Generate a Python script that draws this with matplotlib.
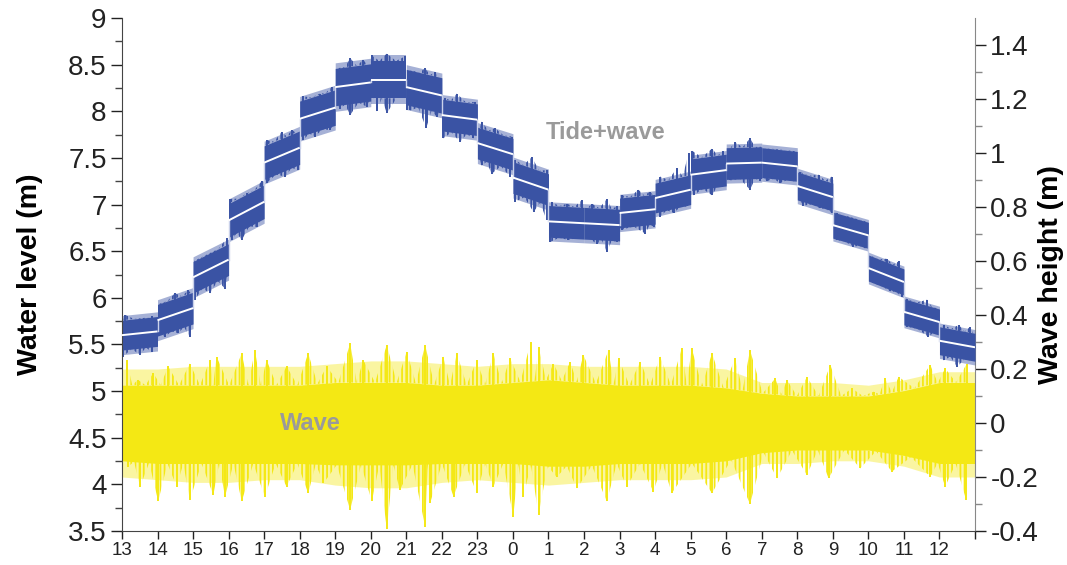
import numpy as np
import matplotlib
matplotlib.use("Agg")
import matplotlib.pyplot as plt

plt.rcParams['font.family'] = ['Liberation Sans', 'DejaVu Sans']
plt.rcParams['hatch.linewidth'] = 1.3

# hour labels (start 13:00, 24 h)
hour_labels = ['13', '14', '15', '16', '17', '18', '19', '20', '21', '22', '23',
               '0', '1', '2', '3', '4', '5', '6', '7', '8', '9', '10', '11', '12']

# tide (hourly mean, start / end of each hour), water level m
tide_start = [5.60, 5.76, 6.22, 6.83, 7.45, 7.92, 8.26, 8.34, 8.26, 7.96, 7.66, 7.29,
              6.82, 6.80, 6.91, 7.07, 7.32, 7.44, 7.45, 7.20, 6.78, 6.32, 5.85, 5.54]
tide_end = [5.64, 5.89, 6.41, 7.03, 7.61, 8.04, 8.31, 8.34, 8.17, 7.91, 7.54, 7.16,
            6.80, 6.78, 6.95, 7.16, 7.37, 7.45, 7.41, 7.08, 6.67, 6.17, 5.74, 5.47]
# half width of the solid part of the tide+wave band, and of its hairy fringe
tide_core = [0.16, 0.17, 0.17, 0.18, 0.18, 0.19, 0.20, 0.20, 0.19, 0.17, 0.17, 0.17,
             0.17, 0.17, 0.16, 0.16, 0.17, 0.17, 0.16, 0.15, 0.14, 0.14, 0.14, 0.15]
tide_fringe = [0.21, 0.22, 0.22, 0.23, 0.23, 0.24, 0.26, 0.26, 0.24, 0.22, 0.22, 0.22,
               0.21, 0.21, 0.20, 0.20, 0.21, 0.21, 0.20, 0.19, 0.17, 0.17, 0.17, 0.19]

# tide+wave spikes (hour, level)
blue_up_t = [0.08, 0.60, 0.84, 1.07, 1.49, 1.87, 2.05, 2.48, 2.95, 3.04, 3.51, 3.93,
             4.07, 4.49, 4.78, 5.10, 5.57, 5.90, 6.14, 6.42, 6.79, 7.03, 7.45, 7.97,
             8.20, 8.53, 8.81, 9.09, 9.42, 9.94, 10.12, 10.50, 10.97, 11.06, 11.53, 11.95,
             12.09, 12.52, 12.94, 13.22, 13.64, 13.92, 14.06, 14.53, 14.86, 15.14, 15.61, 15.94,
             16.03, 16.60, 16.92, 17.25, 17.67, 17.96, 18.14, 18.43, 18.94, 19.08, 19.60, 19.97,
             20.11, 20.58, 20.96, 21.10, 21.52, 21.85, 22.08, 22.65, 22.93, 23.12, 23.54, 23.87]
blue_up_v = [5.82, 5.76, 5.80, 5.92, 6.05, 6.08, 6.35, 6.42, 6.64, 7.06, 7.12, 7.25,
             7.69, 7.78, 7.80, 8.16, 8.19, 8.26, 8.44, 8.57, 8.55, 8.60, 8.62, 8.59,
             8.42, 8.46, 8.42, 8.14, 8.19, 8.10, 7.89, 7.82, 7.73, 7.48, 7.51, 7.37,
             7.03, 7.01, 7.05, 7.01, 7.06, 6.98, 7.10, 7.16, 7.14, 7.30, 7.39, 7.55,
             7.58, 7.60, 7.57, 7.67, 7.71, 7.58, 7.60, 7.58, 7.55, 7.35, 7.32, 7.30,
             6.91, 6.83, 6.76, 6.44, 6.42, 6.39, 5.99, 5.98, 5.87, 5.71, 5.71, 5.69]
blue_dn_t = [0.03, 0.51, 0.84, 1.21, 1.58, 1.91, 2.05, 2.48, 2.90, 3.09, 3.37, 3.79,
             4.07, 4.59, 4.96, 5.10, 5.43, 5.85, 6.14, 6.42, 6.89, 7.17, 7.45, 8.01,
             8.11, 8.56, 8.86, 9.04, 9.51, 9.89, 10.12, 10.40, 10.92, 11.06, 11.58, 11.95,
             12.05, 12.56, 12.89, 13.36, 13.64, 13.92, 14.06, 14.72, 14.98, 15.14, 15.52, 15.89,
             16.08, 16.60, 16.88, 17.11, 17.67, 17.96, 18.14, 18.52, 18.89, 19.17, 19.65, 19.97,
             20.11, 20.58, 20.91, 21.15, 21.62, 21.94, 22.08, 22.69, 22.93, 23.12, 23.49, 23.92]
blue_dn_v = [5.37, 5.39, 5.42, 5.58, 5.62, 5.58, 5.98, 6.05, 6.10, 6.62, 6.62, 6.76,
             7.23, 7.30, 7.37, 7.69, 7.73, 7.80, 8.03, 7.96, 8.05, 8.00, 7.98, 8.01,
             8.01, 7.82, 7.94, 7.71, 7.67, 7.71, 7.42, 7.33, 7.30, 7.03, 6.92, 6.83,
             6.60, 6.62, 6.64, 6.58, 6.49, 6.60, 6.73, 6.69, 6.76, 6.87, 6.91, 6.98,
             7.10, 7.10, 7.19, 7.26, 7.16, 7.25, 7.25, 7.23, 7.25, 6.99, 6.96, 6.91,
             6.62, 6.55, 6.53, 6.19, 6.07, 6.01, 5.69, 5.58, 5.62, 5.33, 5.26, 5.35]

# wave: solid band edges and hairy fringe edges at each hour (wave height m)
wave_hours = list(range(25))
wave_core_top = [0.14, 0.14, 0.14, 0.14, 0.14, 0.14, 0.15, 0.15, 0.15, 0.14, 0.14, 0.15,
                 0.16, 0.15, 0.14, 0.14, 0.14, 0.13, 0.11, 0.10, 0.10, 0.10, 0.12, 0.15, 0.15]
wave_core_bot = [-0.14, -0.15, -0.15, -0.15, -0.15, -0.15, -0.155, -0.155, -0.155, -0.15, -0.15, -0.15,
                 -0.16, -0.16, -0.15, -0.15, -0.15, -0.14, -0.11, -0.10, -0.10, -0.10, -0.12, -0.15, -0.15]
wave_fringe_top = [0.20, 0.20, 0.21, 0.21, 0.21, 0.21, 0.22, 0.23, 0.23, 0.22, 0.21, 0.22,
                   0.22, 0.21, 0.21, 0.21, 0.21, 0.20, 0.15, 0.15, 0.15, 0.14, 0.16, 0.19, 0.19]
wave_fringe_bot = [-0.20, -0.21, -0.22, -0.22, -0.21, -0.21, -0.23, -0.24, -0.24, -0.22, -0.21, -0.22,
                   -0.23, -0.22, -0.21, -0.21, -0.21, -0.20, -0.15, -0.15, -0.14, -0.14, -0.16, -0.20, -0.20]
# wave spikes (hour, height)
wave_up_t = [0.13, 0.45, 0.88, 1.30, 1.91, 2.48, 2.66, 3.37, 3.74, 4.07, 4.63, 5.24, 5.76,
             6.42, 6.79, 7.45, 8.01, 8.53, 9.04, 9.42, 9.98, 10.45, 10.92, 11.50, 11.72, 12.14,
             12.61, 12.98, 13.69, 13.97, 14.58, 15.14, 15.75, 16.03, 16.60, 17.25, 17.67, 18.38,
             18.71, 19.27, 19.93, 20.54, 21.15, 21.47, 21.85, 22.74, 23.16, 23.77]
wave_up_v = [0.233, 0.16, 0.185, 0.21, 0.22, 0.233, 0.246, 0.258, 0.27, 0.233, 0.21, 0.258, 0.21,
             0.295, 0.233, 0.289, 0.264, 0.289, 0.246, 0.258, 0.233, 0.258, 0.24, 0.30, 0.283, 0.22,
             0.227, 0.252, 0.27, 0.24, 0.227, 0.246, 0.277, 0.277, 0.258, 0.24, 0.27, 0.165,
             0.159, 0.171, 0.215, 0.128, 0.116, 0.165, 0.171, 0.215, 0.202, 0.22]
wave_dn_t = [0.17, 0.51, 1.02, 1.54, 1.91, 2.57, 2.90, 3.37, 4.02, 4.63, 5.24, 5.67, 6.42,
             7.03, 7.45, 7.82, 8.53, 8.67, 9.33, 9.98, 10.45, 11.01, 11.29, 11.72, 12.23,
             12.80, 13.64, 14.20, 14.95, 15.47, 16.60, 17.67, 18.43, 19.27, 19.88, 20.77,
             21.66, 22.74, 23.16, 23.75]
wave_dn_v = [-0.162, -0.236, -0.29, -0.236, -0.285, -0.267, -0.273, -0.29, -0.273, -0.236, -0.26, -0.223, -0.322,
             -0.29, -0.394, -0.248, -0.384, -0.297, -0.273, -0.26, -0.236, -0.347, -0.273, -0.34, -0.2,
             -0.242, -0.29, -0.236, -0.254, -0.26, -0.26, -0.30, -0.205, -0.193, -0.205, -0.168,
             -0.18, -0.199, -0.236, -0.285]

blue = '#3a53a4'
yellow = '#f4e814'
label_grey = '#9a9a9a'


def zigzag(ts, vs, base_fn):
    # outline through the spike tips, back down to the band edge between them
    xs, ys, bs = [], [], []
    for i in range(len(ts)):
        t, v = ts[i], vs[i]
        xs.append(t)
        bs.append(base_fn(t))
        ys.append(v)
        if i < len(ts) - 1:
            m = 0.5 * (t + ts[i + 1])
            xs.append(m)
            bs.append(base_fn(m))
            ys.append(base_fn(m))
    return xs, ys, bs


def hair(a, xs, lo, hi, color):
    a.fill_between(xs, lo, hi, facecolor='none', edgecolor=color, hatch='||||', lw=0)


fig = plt.figure(figsize=(10.67, 5.65), dpi=100)
ax = fig.add_axes([0.1143, 0.0602, 0.7995, 0.9078])
ax2 = ax.twinx()
ax.set_zorder(ax2.get_zorder() + 1)
ax.patch.set_visible(False)

# wave (right axis)
ax2.fill_between(wave_hours, wave_fringe_bot, wave_fringe_top, color=yellow, alpha=0.4, lw=0)
ax2.fill_between(wave_hours, wave_core_bot, wave_core_top, color=yellow, lw=0)
x, y, b = zigzag(wave_up_t, wave_up_v, lambda t: float(np.interp(t, wave_hours, wave_core_top)))
hair(ax2, x, b, y, yellow)
x, y, b = zigzag(wave_dn_t, wave_dn_v, lambda t: float(np.interp(t, wave_hours, wave_core_bot)))
hair(ax2, x, y, b, yellow)
ax2.vlines(wave_up_t, 0, wave_up_v, color=yellow, lw=1.4)
ax2.vlines(wave_dn_t, wave_dn_v, 0, color=yellow, lw=1.4)
ax2.text(5.29, 0.0, 'Wave', color=label_grey, fontsize=17, fontweight='bold',
         ha='center', va='center')


def mean_at(t):
    k = min(int(t), 23)
    return tide_start[k] + (tide_end[k] - tide_start[k]) * (t - k)


# tide + wave (left axis)
for k in range(24):
    s, e, c, f = tide_start[k], tide_end[k], tide_core[k], tide_fringe[k]
    ax.fill_between([k, k + 1], [s - f, e - f], [s + f, e + f], color=blue, alpha=0.45, lw=0)
    ax.fill_between([k, k + 1], [s - c, e - c], [s + c, e + c], color=blue, lw=0)

    def top_edge(t, k=k):
        return tide_start[k] + (tide_end[k] - tide_start[k]) * (t - k) + tide_core[k]

    def bot_edge(t, k=k):
        return tide_start[k] + (tide_end[k] - tide_start[k]) * (t - k) - tide_core[k]

    ts = [k] + [t for t in blue_up_t if k <= t < k + 1] + [k + 1]
    vs = [top_edge(k)] + [v for t, v in zip(blue_up_t, blue_up_v) if k <= t < k + 1] + [top_edge(k + 1)]
    x, y, b = zigzag(ts, vs, top_edge)
    hair(ax, x, b, y, blue)
    ts = [k] + [t for t in blue_dn_t if k <= t < k + 1] + [k + 1]
    vs = [bot_edge(k)] + [v for t, v in zip(blue_dn_t, blue_dn_v) if k <= t < k + 1] + [bot_edge(k + 1)]
    x, y, b = zigzag(ts, vs, bot_edge)
    hair(ax, x, y, b, blue)

    ax.plot([k, k + 1], [s, e], color='white', lw=1.4, solid_capstyle='butt', zorder=4)
    if k > 0:
        ax.plot([k, k], [tide_end[k - 1], s], color='#c9d1ea', lw=1.0, zorder=3)

up_base = [mean_at(t) for t in blue_up_t]
dn_base = [mean_at(t) for t in blue_dn_t]
ax.vlines(blue_up_t, up_base, blue_up_v, color=blue, lw=1.4)
ax.vlines(blue_dn_t, blue_dn_v, dn_base, color=blue, lw=1.4)
ax.text(13.6, 7.77, 'Tide+wave', color=label_grey, fontsize=17, fontweight='bold',
        ha='center', va='center')

# axes
ax.set_xlim(0, 24)
ax.set_ylim(3.5, 9)
ax2.set_ylim(-0.4, 1.5)
ax.set_xticks(range(25))
ax.set_xticklabels(hour_labels + [''])
ax.set_yticks(np.arange(3.5, 9.01, 0.5))
ax.set_yticklabels(['3.5', '4', '4.5', '5', '5.5', '6', '6.5', '7', '7.5', '8', '8.5', '9'])
ax.set_yticks(np.arange(3.75, 9, 0.5), minor=True)
ax2.set_yticks(np.arange(-0.4, 1.41, 0.2))
ax2.set_yticklabels(['-0.4', '-0.2', '0', '0.2', '0.4', '0.6', '0.8', '1', '1.2', '1.4'])
ax2.set_yticks(np.arange(-0.3, 1.5, 0.2), minor=True)

ax.tick_params(axis='y', which='major', length=8, width=1, labelsize=20, colors='#222222', pad=3)
ax.tick_params(axis='y', which='minor', length=5, width=1, colors='#444444')
ax.tick_params(axis='x', which='major', length=6, width=1, labelsize=13.5, colors='#222222', pad=2)
ax2.tick_params(axis='y', which='major', length=8, width=1, labelsize=20, colors='#222222', pad=3)
ax2.tick_params(axis='y', which='minor', length=5, width=1, color='#888888')

for a in (ax, ax2):
    a.spines['top'].set_visible(False)
ax.spines['left'].set_color('#444444')
ax.spines['bottom'].set_color('#444444')
ax.spines['right'].set_visible(False)
ax2.spines['left'].set_visible(False)
ax2.spines['bottom'].set_visible(False)
ax2.spines['right'].set_color('#888888')

ax.set_ylabel('Water level (m)', fontsize=20.5, fontweight='bold', labelpad=18)
ax2.set_ylabel('Wave height (m)', fontsize=20.5, fontweight='bold', labelpad=0)

fig.savefig('out.png', dpi=100)
